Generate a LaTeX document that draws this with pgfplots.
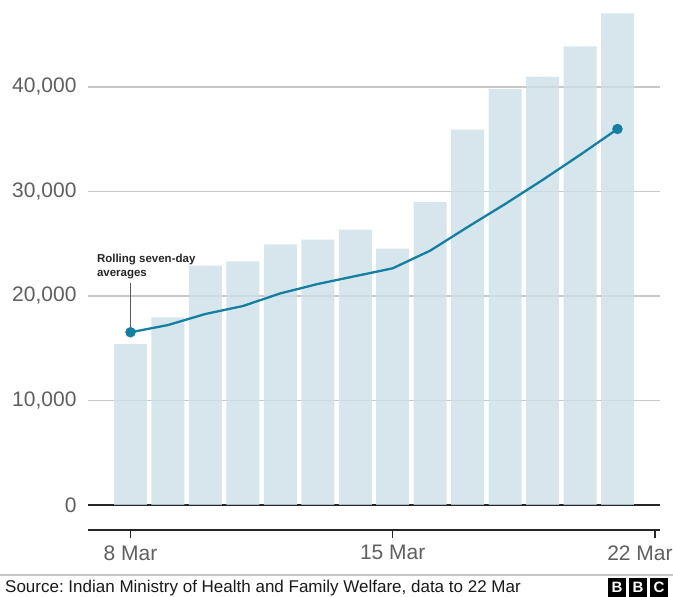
\documentclass[border=0pt]{standalone}
\usepackage{fontspec}
\setmainfont{Liberation Sans}
\usepackage{pgfplots}
\pgfplotsset{compat=1.18}
\frenchspacing
\definecolor{bbcteal}{RGB}{19,128,161}
\definecolor{barfill}{RGB}{204,224,231}
\definecolor{gridgrey}{RGB}{200,200,200}
\definecolor{ticktext}{RGB}{95,95,95}
\begin{document}
\begin{tikzpicture}[x=1pt,y=1pt]
\path[use as bounding box] (0,0) rectangle (673,597);
\begin{axis}[at={(88pt,67pt)}, anchor=south west, scale only axis,
  width=572pt, height=530pt,
  xmin=-1.135, xmax=14.135, ymin=-2392, ymax=48325,
  axis x line=bottom, axis y line=left,
  x axis line style={-, line width=2.2pt, draw=black!85},
  y axis line style={draw=none},
  xtick={0,7,14}, xticklabels={8 Mar,15 Mar,\hspace*{-30pt}22 Mar},
  xtick align=outside, major tick length=8pt,
  xtick style={line width=1.3pt, draw=black!85},
  xticklabel style={yshift=-4pt},
  ytick={10000,20000,30000,40000}, ytick style={draw=none},
  scaled y ticks=false,
  ymajorgrids, grid style={gridgrey, line width=1.3pt},
  extra y ticks={0}, extra y tick style={grid style={black!85, line width=2.2pt}},
  ticklabel style={font=\fontsize{21}{21}\selectfont, text=ticktext},
  yticklabel style={xshift=-4pt},
  /pgf/number format/assume math mode=true,
  /pgf/number format/1000 sep={,},
  clip=false]
\addplot[ybar, bar width=0.88, fill=barfill, fill opacity=0.8, draw=none] table {
x y
0 15400
1 17950
2 22900
3 23320
4 24950
5 25390
6 26350
7 24530
8 29000
9 35920
10 39810
11 40990
12 43890
13 47050
};
\draw[black!65, line width=1pt] (axis cs:0,16530) -- (axis cs:0,21250);
\node[anchor=north west, align=left, font=\bfseries\fontsize{11.5}{14}\selectfont, text=black!85, inner sep=0] at (axis cs:-0.9,24050) {Rolling seven-day\\averages};
\addplot[bbcteal, line width=2.3pt, mark=none] table {
x y
0 16530
1 17220
2 18280
3 19040
4 20250
5 21150
6 21900
7 22650
8 24340
9 26600
10 28800
11 31100
12 33500
13 35980
};
\addplot[only marks, mark=*, mark size=5pt, bbcteal] coordinates {(0,16530) (13,35980)};
\end{axis}
\draw[gridgrey, line width=1.3pt] (0,22) -- (673,22);
\node[anchor=base west, inner sep=0, font=\fontsize{17}{17}\selectfont, text=black!90] at (5,4) {Source: Indian Ministry of Health and Family Welfare, data to 22 Mar};
\foreach \x/\l in {608/B,629/B,650/C} {
  \fill[black] (\x,0) rectangle ++(18,19);
  \node[text=white, inner sep=0, font=\bfseries\fontsize{15}{15}\selectfont] at (\x+9,9.5) {\l};
}
\end{tikzpicture}
\end{document}
